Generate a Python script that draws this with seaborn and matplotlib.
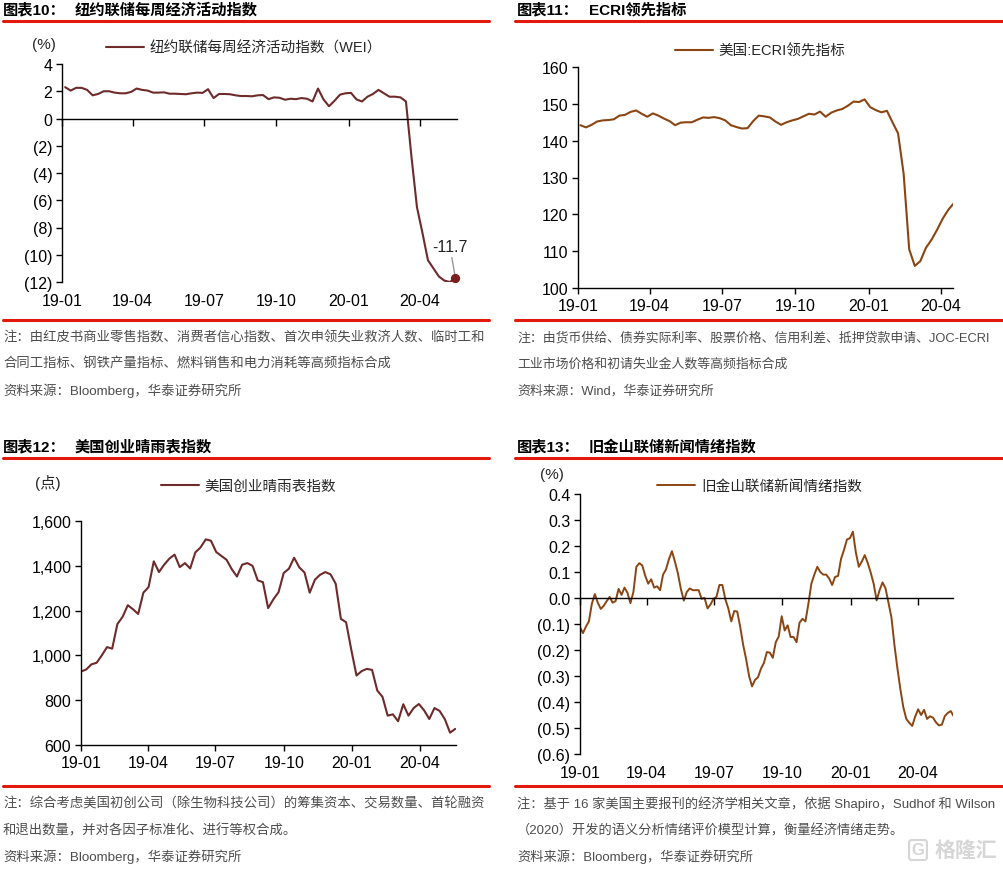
import pandas as pd
import matplotlib
matplotlib.use("Agg")
import matplotlib.pyplot as plt
import matplotlib.dates as mdates
from matplotlib.lines import Line2D
from matplotlib.ticker import FuncFormatter, MultipleLocator
import seaborn as sns

W, H = 1004, 870

# NY Fed weekly economic index, weekly (Saturdays) from 2019-01-05
wei = [2.30, 2.05, 2.25, 2.25, 2.10, 1.70, 1.80, 2.00, 2.00, 1.90,
       1.85, 1.85, 1.95, 2.20, 2.10, 2.05, 1.90, 1.90, 1.92, 1.82,
       1.82, 1.80, 1.78, 1.85, 1.90, 1.88, 2.15, 1.50, 1.80, 1.80,
       1.78, 1.70, 1.65, 1.65, 1.63, 1.70, 1.72, 1.42, 1.55, 1.52,
       1.38, 1.45, 1.42, 1.50, 1.45, 1.25, 2.20, 1.40, 0.90, 1.30,
       1.75, 1.85, 1.88, 1.40, 1.25, 1.60, 1.80, 2.10, 1.85, 1.60,
       1.60, 1.55, 1.25, -2.80, -6.50, -8.40, -10.40, -11.00, -11.60, -11.90,
       -12.00, -11.70]

# ECRI weekly leading index, weekly (Fridays) from 2019-01-04
ecri = [144.2, 143.6, 144.3, 145.2, 145.5, 145.6, 145.8, 146.8, 147.0, 147.8,
        148.2, 147.3, 146.5, 147.4, 146.8, 146.0, 145.3, 144.2, 144.9, 145.0,
        145.0, 145.7, 146.3, 146.2, 146.4, 146.1, 145.5, 144.2, 143.7, 143.3,
        143.4, 145.3, 146.8, 146.6, 146.3, 145.2, 144.3, 145.0, 145.5, 145.9,
        146.6, 147.3, 147.1, 147.9, 146.5, 147.6, 148.2, 148.6, 149.5, 150.6,
        150.5, 151.2, 149.1, 148.3, 147.7, 148.1, 145.0, 142.0, 131.0, 110.5,
        106.0, 107.3, 110.9, 113.1, 115.8, 118.8, 121.2, 123.0]

# startup barometer, weekly from 2019-01-01
baro = [928, 937, 960, 967, 1000, 1037, 1030, 1140, 1172, 1224,
        1206, 1185, 1280, 1305, 1420, 1372, 1405, 1432, 1450, 1394,
        1412, 1388, 1460, 1482, 1518, 1512, 1462, 1444, 1427, 1385,
        1352, 1405, 1412, 1400, 1335, 1327, 1211, 1250, 1282, 1368,
        1387, 1436, 1393, 1370, 1280, 1338, 1360, 1372, 1362, 1320,
        1163, 1148, 1025, 910, 930, 940, 935, 843, 815, 731,
        737, 706, 782, 731, 765, 783, 755, 716, 765, 752,
        715, 655, 672]

# SF Fed daily news sentiment, sampled every 4 days from 2019-01-01
sent = [-0.112, -0.135, -0.110, -0.090, -0.022, 0.015, -0.018, -0.042, -0.030, -0.012,
        0.004, -0.018, -0.012, 0.035, 0.012, 0.040, 0.020, -0.020, 0.023, 0.120,
        0.134, 0.125, 0.085, 0.055, 0.072, 0.040, 0.045, 0.030, 0.090, 0.110,
        0.150, 0.180, 0.140, 0.095, 0.035, -0.010, 0.023, 0.037, 0.030, 0.030,
        0.030, -0.003, 0.000, -0.040, -0.025, -0.003, 0.004, 0.050, 0.050, -0.005,
        -0.040, -0.090, -0.050, -0.052, -0.110, -0.180, -0.235, -0.300, -0.340, -0.315,
        -0.305, -0.272, -0.250, -0.208, -0.210, -0.230, -0.170, -0.148, -0.070, -0.125,
        -0.105, -0.150, -0.150, -0.170, -0.095, -0.080, -0.090, -0.022, 0.055, 0.090,
        0.120, 0.100, 0.090, 0.090, 0.075, 0.050, 0.081, 0.085, 0.150, 0.185,
        0.225, 0.230, 0.255, 0.175, 0.120, 0.140, 0.165, 0.135, 0.098, 0.055,
        -0.009, 0.030, 0.060, 0.037, -0.018, -0.075, -0.180, -0.270, -0.350, -0.420,
        -0.465, -0.480, -0.492, -0.456, -0.428, -0.450, -0.430, -0.465, -0.455, -0.460,
        -0.478, -0.490, -0.487, -0.454, -0.442, -0.435, -0.455]

df_wei = pd.DataFrame({"date": pd.date_range("2019-01-05", periods=len(wei), freq="7D"), "value": wei})
df_ecri = pd.DataFrame({"date": pd.date_range("2019-01-04", periods=len(ecri), freq="7D"), "value": ecri})
df_baro = pd.DataFrame({"date": pd.date_range("2019-01-01", periods=len(baro), freq="7D"), "value": baro})
df_sent = pd.DataFrame({"date": pd.date_range("2019-01-01", periods=len(sent), freq="4D"), "value": sent})

MAROON = "#6E2B2B"
BROWN = "#8B4513"
RED = "#E2190C"
NOTE = "#4d4d4d"

sns.set_theme(style="ticks")
plt.rcParams["font.family"] = ["Liberation Sans", "Noto Sans CJK SC", "DejaVu Sans"]
plt.rcParams["axes.unicode_minus"] = False

fig = plt.figure(figsize=(W / 100, H / 100), dpi=100)


def px_axes(x0, y0, x1, y1):
    return fig.add_axes([x0 / W, 1 - y1 / H, (x1 - x0) / W, (y1 - y0) / H])


def ftext(x, y, s, **kw):
    kw.setdefault("va", "center")
    fig.text(x / W, 1 - y / H, s, **kw)


def red_rule(x0, x1, y):
    fig.add_artist(Line2D([x0 / W, x1 / W], [1 - y / H, 1 - y / H], color=RED, lw=2.2,
                          transform=fig.transFigure))


def paren_fmt(decimals):
    def f(v, _):
        if v < -1e-9:
            return f"({abs(v):.{decimals}f})"
        return f"{abs(v):.{decimals}f}"
    return FuncFormatter(f)


def style_axes(ax, days, ylim, step, fmt, zero_line, height_px):
    t0 = pd.Timestamp("2019-01-01")
    ax.set_xlim(t0, t0 + pd.Timedelta(days=days))
    ax.set_ylim(*ylim)
    ax.xaxis.set_major_locator(mdates.MonthLocator(bymonth=[1, 4, 7, 10]))
    ax.xaxis.set_major_formatter(mdates.DateFormatter("%y-%m"))
    ax.yaxis.set_major_locator(MultipleLocator(step))
    ax.yaxis.set_major_formatter(fmt)
    for s in ["top", "right"]:
        ax.spines[s].set_visible(False)
    for s in ["left", "bottom"]:
        ax.spines[s].set_color("black")
        ax.spines[s].set_linewidth(1.0)
    ax.tick_params(axis="y", direction="out", length=4, width=1, pad=3,
                   labelsize=11.5, colors="black")
    if zero_line:
        ax.spines["bottom"].set_position(("data", 0))
        frac = (0 - ylim[0]) / (ylim[1] - ylim[0])
        pad = frac * height_px * 0.72 + 3
        ax.tick_params(axis="x", direction="out", length=5, width=1, pad=pad,
                       labelsize=11.5, colors="black")
    else:
        ax.tick_params(axis="x", direction="out", length=4, width=1, pad=3,
                       labelsize=11.5, colors="black")
    ax.set_xlabel("")
    ax.set_ylabel("")


def add_legend(ax, x, y):
    ax.legend(loc="center", bbox_to_anchor=(x, y), frameon=False, fontsize=10.5,
              handlelength=2.6, handletextpad=0.4, borderaxespad=0)


# ---- panel 10: WEI
ax1 = px_axes(62, 65, 457, 283)
sns.lineplot(data=df_wei, x="date", y="value", ax=ax1, color=MAROON, linewidth=1.5,
             label="纽约联储每周经济活动指数（WEI）")
style_axes(ax1, 503, (-12, 4), 2, paren_fmt(0), True, 218)
add_legend(ax1, 0.46, 1.075)
last_d, last_v = df_wei["date"].iloc[-1], df_wei["value"].iloc[-1]
ax1.scatter([last_d], [last_v], s=32, color="#7A1E1E", zorder=5, clip_on=False)
ax1.annotate(f"{last_v:.1f}", xy=(last_d, last_v), xytext=(-4, 17), textcoords="offset points",
             ha="center", va="bottom", fontsize=11.5, color="#222222",
             arrowprops=dict(arrowstyle="-", color="#9a9a9a", lw=1, shrinkA=0, shrinkB=3))
ftext(44, 45, "(%)", ha="center", fontsize=11)

# ---- panel 11: ECRI
ax2 = px_axes(578, 68, 953, 289)
sns.lineplot(data=df_ecri, x="date", y="value", ax=ax2, color=BROWN, linewidth=1.5,
             label="美国:ECRI领先指标")
style_axes(ax2, 471, (100, 160), 10, FuncFormatter(lambda v, _: f"{v:.0f}"), False, 221)
add_legend(ax2, 0.486, 1.072)

# ---- panel 12: startup barometer
ax3 = px_axes(81, 522, 456, 746)
sns.lineplot(data=df_baro, x="date", y="value", ax=ax3, color=MAROON, linewidth=1.5,
             label="美国创业晴雨表指数")
style_axes(ax3, 505, (600, 1600), 200, FuncFormatter(lambda v, _: f"{v:,.0f}"), False, 224)
add_legend(ax3, 0.447, 1.156)
ftext(48, 483, "(点)", ha="center", fontsize=11)

# ---- panel 13: news sentiment
ax4 = px_axes(580, 495, 953, 755)
sns.lineplot(data=df_sent, x="date", y="value", ax=ax4, color=BROWN, linewidth=1.4,
             label="旧金山联储新闻情绪指数")
style_axes(ax4, 503, (-0.6, 0.4), 0.1, paren_fmt(1), True, 260)
add_legend(ax4, 0.482, 1.03)
ftext(552, 475, "(%)", ha="center", fontsize=11)

# ---- headers
for x0, y, num, title in [(3, 10, "图表10：", "纽约联储每周经济活动指数"),
                          (517, 10, "图表11：", "ECRI领先指标"),
                          (3, 447, "图表12：", "美国创业晴雨表指数"),
                          (517, 447, "图表13：", "旧金山联储新闻情绪指数")]:
    ftext(x0, y, num, ha="left", fontsize=11, fontweight="bold", color="black")
    ftext(x0 + 72, y, title, ha="left", fontsize=11, fontweight="bold", color="black")

red_rule(3, 489, 22)
red_rule(515, 1004, 22)
red_rule(3, 489, 321)
red_rule(515, 1004, 321)
red_rule(3, 489, 459)
red_rule(515, 1004, 459)
red_rule(3, 489, 787)
red_rule(515, 1004, 787)

# ---- notes
notes = [
    (3, 338, 9.6, ["注：由红皮书商业零售指数、消费者信心指数、首次申领失业救济人数、临时工和",
                   "合同工指标、钢铁产量指标、燃料销售和电力消耗等高频指标合成",
                   "资料来源：Bloomberg，华泰证券研究所"]),
    (517, 338, 9.3, ["注：由货币供给、债券实际利率、股票价格、信用利差、抵押贷款申请、JOC-ECRI",
                     "工业市场价格和初请失业金人数等高频指标合成",
                     "资料来源：Wind，华泰证券研究所"]),
    (3, 804, 9.6, ["注：综合考虑美国初创公司（除生物科技公司）的筹集资本、交易数量、首轮融资",
                   "和退出数量，并对各因子标准化、进行等权合成。",
                   "资料来源：Bloomberg，华泰证券研究所"]),
    (517, 804, 9.5, ["注：基于 16 家美国主要报刊的经济学相关文章，依据 Shapiro，Sudhof 和 Wilson",
                     "（2020）开发的语义分析情绪评价模型计算，衡量经济情绪走势。",
                     "资料来源：Bloomberg，华泰证券研究所"]),
]
for x0, y0, fs, lines in notes:
    for k, line in enumerate(lines):
        ftext(x0, y0 + k * 26.5, line, ha="left", fontsize=fs, color=NOTE)

# watermark
ftext(935, 851, "格隆汇", ha="left", fontsize=15, fontweight="bold", color="#d6d6d6")
ftext(918, 851, "G", ha="center", fontsize=12, fontweight="bold", color="#d6d6d6",
      bbox=dict(boxstyle="round,pad=0.15", fc="none", ec="#d6d6d6", lw=1.5))

fig.savefig("out.png", dpi=100)
